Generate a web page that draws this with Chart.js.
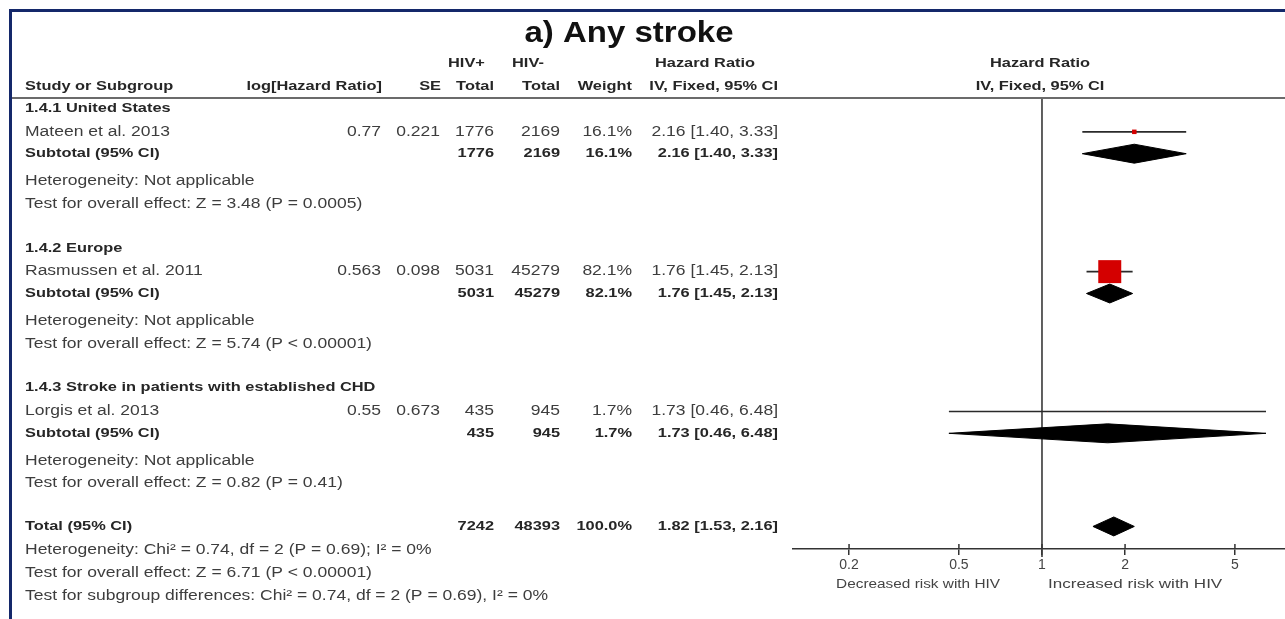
<!DOCTYPE html>
<html>
<head>
<meta charset="utf-8">
<script src="https://cdn.jsdelivr.net/npm/chart.js@4/dist/chart.umd.min.js"></script>
<style>
  html, body { margin: 0; padding: 0; background: #ffffff; overflow: hidden; }
  #forest { display: block; }
</style>
</head>
<body>
<canvas id="forest" width="1285" height="619"></canvas>
<script>
// ---- Study data -------------------------------------------------------
const subgroupNames = ['1.4.1 United States', '1.4.2 Europe', '1.4.3 Stroke in patients with established CHD'];
const studyNames = ['Mateen et al. 2013', 'Rasmussen et al. 2011', 'Lorgis et al. 2013'];
const logHR = ['0.77', '0.563', '0.55'];
const seLogHR = ['0.221', '0.098', '0.673'];
const hivPosTotal = [1776, 5031, 435];
const hivNegTotal = [2169, 45279, 945];
const weightPct = [16.1, 82.1, 1.7];
const studyHR = [2.16, 1.76, 1.73];
const studyLow = [1.40, 1.45, 0.46];
const studyHigh = [3.33, 2.13, 6.48];

// Subgroup pooled estimates (one study per subgroup)
const subHR = [2.16, 1.76, 1.73];
const subLow = [1.40, 1.45, 0.46];
const subHigh = [3.33, 2.13, 6.48];
const subHeterogeneity = ['Heterogeneity: Not applicable', 'Heterogeneity: Not applicable', 'Heterogeneity: Not applicable'];
const subOverallTest = [
  'Test for overall effect: Z = 3.48 (P = 0.0005)',
  'Test for overall effect: Z = 5.74 (P < 0.00001)',
  'Test for overall effect: Z = 0.82 (P = 0.41)'
];

// Overall pooled result
const totalCounts = [7242, 48393];
const totalWeight = 100.0;
const totalHR = [1.82, 1.53, 2.16]; // estimate, lower, upper
const totalNotes = [
  'Heterogeneity: Chi\u00B2 = 0.74, df = 2 (P = 0.69); I\u00B2 = 0%',
  'Test for overall effect: Z = 6.71 (P < 0.00001)',
  'Test for subgroup differences: Chi\u00B2 = 0.74, df = 2 (P = 0.69), I\u00B2 = 0%'
];

const xTicks = [0.2, 0.5, 1, 2, 5];
const axisLabels = ['Decreased risk with HIV', 'Increased risk with HIV'];

// ---- Row layout (in row units on the y scale) --------------------------
const BLOCK = 6.2;
const slotHeading = g => g * BLOCK + 0.45;
const slotStudy = g => g * BLOCK + 1.5;
const slotSubtotal = g => g * BLOCK + 2.47;
const slotHet = g => g * BLOCK + 3.7;
const slotTest = g => g * BLOCK + 4.7;
const slotTotal = 3 * BLOCK + 0.4;
const slotTotalNotes = [3 * BLOCK + 1.45, 3 * BLOCK + 2.45, 3 * BLOCK + 3.5];
const DIAMOND_HALF = 0.42;

// ---- Datasets ----------------------------------------------------------
const datasets = [];

// line of no effect
datasets.push({
  type: 'line', data: [{ x: 1, y: 0 }, { x: 1, y: 20.35 }],
  borderColor: '#3a3a3a', borderWidth: 1.6, pointRadius: 0, clip: false, order: 5
});

// confidence interval whiskers
studyNames.forEach((n, i) => {
  datasets.push({
    type: 'line',
    data: [{ x: studyLow[i], y: slotStudy(i) }, { x: studyHigh[i], y: slotStudy(i) }],
    borderColor: '#2a2a2a', borderWidth: 1.6, pointRadius: 0, order: 3
  });
});

// weighted squares: side grows with study weight
datasets.push({
  type: 'scatter',
  data: studyNames.map((n, i) => ({ x: studyHR[i], y: slotStudy(i) })),
  pointStyle: 'rect',
  pointRadius: weightPct.map(w => (w * 0.28) / Math.SQRT2),
  pointHoverRadius: 0,
  backgroundColor: '#d40000', borderColor: '#d40000', borderWidth: 0,
  order: 1
});

function diamond(est, lo, hi, slot) {
  return {
    type: 'line',
    data: [
      { x: lo, y: slot }, { x: est, y: slot - DIAMOND_HALF },
      { x: hi, y: slot }, { x: est, y: slot + DIAMOND_HALF }, { x: lo, y: slot }
    ],
    fill: 'shape', backgroundColor: '#000000', borderColor: '#000000',
    borderWidth: 1, pointRadius: 0, tension: 0, order: 2
  };
}
subHR.forEach((v, g) => datasets.push(diamond(v, subLow[g], subHigh[g], slotSubtotal(g))));
datasets.push(diamond(totalHR[0], totalHR[1], totalHR[2], slotTotal));

// ---- Table text --------------------------------------------------------
const FONT = '"Liberation Sans", Arial, sans-serif';
const SX = 1.25;
const COL = { left: 25, logHR: 381, se: 440, pos: 494, neg: 560, weight: 632, ci: 778, plotMid: 1040 };

function txt(ctx, s, x, y, opt) {
  const o = Object.assign({ align: 'left', bold: false, size: 14, sx: SX, color: '#3d3d3d', base: 'middle' }, opt || {});
  ctx.save();
  ctx.translate(x, y);
  ctx.scale(o.sx, 1);
  ctx.font = (o.bold ? 'bold ' : '') + o.size + 'px ' + FONT;
  ctx.fillStyle = o.color;
  ctx.textAlign = o.align;
  ctx.textBaseline = o.base;
  ctx.fillText(s, 0, 0);
  ctx.restore();
}
const ci = (e, l, h) => e.toFixed(2) + ' [' + l.toFixed(2) + ', ' + h.toFixed(2) + ']';

const tablePlugin = {
  id: 'forestTable',
  beforeDraw(chart) {
    const c = chart.ctx;
    c.save();
    c.fillStyle = '#ffffff';
    c.fillRect(0, 0, chart.width, chart.height);
    c.restore();
  },
  afterDraw(chart) {
    const c = chart.ctx;
    const y = chart.scales.y;
    const xs = chart.scales.x;
    const py = v => y.getPixelForValue(v);
    const B = { bold: true, size: 13, sx: 1.26, color: '#262626' };

    // frame
    c.save();
    c.fillStyle = '#14286a';
    c.fillRect(9, 9, chart.width - 9, 3);
    c.fillRect(9, 9, 3, chart.height - 9);
    c.restore();

    // title
    txt(c, 'a) Any stroke', 629, 42, { bold: true, size: 30, sx: 1.1, align: 'center', base: 'alphabetic', color: '#111111' });

    // header
    const h1 = 63, h2 = 86;
    txt(c, 'HIV+', 448, h1, B);
    txt(c, 'HIV-', 512, h1, B);
    txt(c, 'Hazard Ratio', 705, h1, Object.assign({ align: 'center' }, B));
    txt(c, 'Hazard Ratio', COL.plotMid, h1, Object.assign({ align: 'center' }, B));
    txt(c, 'Study or Subgroup', COL.left, h2, B);
    txt(c, 'log[Hazard Ratio]', COL.logHR + 1, h2, Object.assign({ align: 'right' }, B));
    txt(c, 'SE', COL.se + 1, h2, Object.assign({ align: 'right' }, B));
    txt(c, 'Total', COL.pos, h2, Object.assign({ align: 'right' }, B));
    txt(c, 'Total', COL.neg, h2, Object.assign({ align: 'right' }, B));
    txt(c, 'Weight', COL.weight, h2, Object.assign({ align: 'right' }, B));
    txt(c, 'IV, Fixed, 95% CI', COL.ci, h2, Object.assign({ align: 'right' }, B));
    txt(c, 'IV, Fixed, 95% CI', COL.plotMid, h2, Object.assign({ align: 'center' }, B));

    // header rule
    c.save();
    c.strokeStyle = '#6b6b6b';
    c.lineWidth = 2;
    c.beginPath();
    c.moveTo(12, py(0));
    c.lineTo(chart.width, py(0));
    c.stroke();
    c.restore();

    const R = { align: 'right' };
    const RB = Object.assign({ align: 'right' }, B);
    subgroupNames.forEach((name, g) => {
      txt(c, name, COL.left, py(slotHeading(g)), B);
      const ys = py(slotStudy(g));
      txt(c, studyNames[g], COL.left, ys);
      txt(c, logHR[g], COL.logHR, ys, R);
      txt(c, seLogHR[g], COL.se, ys, R);
      txt(c, String(hivPosTotal[g]), COL.pos, ys, R);
      txt(c, String(hivNegTotal[g]), COL.neg, ys, R);
      txt(c, weightPct[g].toFixed(1) + '%', COL.weight, ys, R);
      txt(c, ci(studyHR[g], studyLow[g], studyHigh[g]), COL.ci, ys, R);

      const yt = py(slotSubtotal(g));
      txt(c, 'Subtotal (95% CI)', COL.left, yt, B);
      txt(c, String(hivPosTotal[g]), COL.pos, yt, RB);
      txt(c, String(hivNegTotal[g]), COL.neg, yt, RB);
      txt(c, weightPct[g].toFixed(1) + '%', COL.weight, yt, RB);
      txt(c, ci(subHR[g], subLow[g], subHigh[g]), COL.ci, yt, RB);

      txt(c, subHeterogeneity[g], COL.left, py(slotHet(g)));
      txt(c, subOverallTest[g], COL.left, py(slotTest(g)));
    });

    const yT = py(slotTotal);
    txt(c, 'Total (95% CI)', COL.left, yT, B);
    txt(c, String(totalCounts[0]), COL.pos, yT, RB);
    txt(c, String(totalCounts[1]), COL.neg, yT, RB);
    txt(c, totalWeight.toFixed(1) + '%', COL.weight, yT, RB);
    txt(c, ci(totalHR[0], totalHR[1], totalHR[2]), COL.ci, yT, RB);
    totalNotes.forEach((s, k) => txt(c, s, COL.left, py(slotTotalNotes[k])));

    // short tick stubs above the axis line
    c.save();
    c.strokeStyle = '#333333';
    c.lineWidth = 1.5;
    c.beginPath();
    xTicks.forEach(v => {
      const px = xs.getPixelForValue(v);
      c.moveTo(px, xs.top - 5);
      c.lineTo(px, xs.top);
    });
    c.stroke();
    c.restore();

    // direction labels under the axis
    const x1 = xs.getPixelForValue(1);
    txt(c, axisLabels[0], x1 - 42, 585, { align: 'right', size: 12, sx: 1.28, color: '#444444' });
    txt(c, axisLabels[1], x1 + 6, 585, { align: 'left', size: 12, sx: 1.42, color: '#444444' });
  }
};

// ---- Chart -------------------------------------------------------------
new Chart(document.getElementById('forest'), {
  type: 'line',
  data: { datasets },
  options: {
    responsive: false,
    animation: false,
    devicePixelRatio: 1,
    events: [],
    layout: { autoPadding: false, padding: { left: 793, right: 0, top: 98, bottom: 30 } },
    plugins: { legend: { display: false }, tooltip: { enabled: false } },
    scales: {
      x: {
        type: 'logarithmic',
        min: 0.1253,
        max: 7.593,
        afterBuildTicks: s => { s.ticks = xTicks.map(v => ({ value: v })); },
        afterFit: s => { s.height = 40; },
        border: { color: '#333333', width: 1.5 },
        grid: { drawOnChartArea: false, drawTicks: true, tickLength: 6, color: '#333333', lineWidth: 1.5 },
        ticks: {
          autoSkip: false, maxRotation: 0, padding: 2, color: '#444444',
          font: { family: FONT, size: 14 },
          callback: v => String(v)
        }
      },
      y: { type: 'linear', min: 0, max: 20, reverse: true, display: false }
    }
  },
  plugins: [tablePlugin]
});
</script>
</body>
</html>
